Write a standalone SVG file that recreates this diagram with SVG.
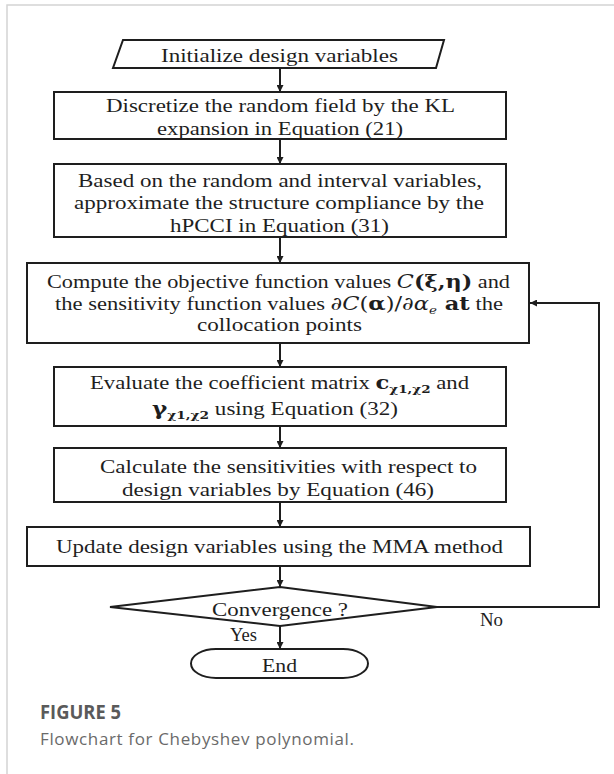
<svg xmlns="http://www.w3.org/2000/svg" width="614" height="774" viewBox="0 0 614 774">
  <style>
    .frame { fill: none; stroke: #d4d4d4; stroke-width: 1.5; }
    .shape { fill: #ffffff; stroke: #1e1e1e; stroke-width: 2; }
    .line { fill: none; stroke: #1e1e1e; stroke-width: 2; }
    .t { font-family: "Liberation Serif", "Times New Roman", serif; font-size: 18.5px; fill: #1e1e1e; }
    .m { font-family: "DejaVu Serif", "Liberation Serif", serif; }
    .sub { font-size: 11px; }
    .cap-title { font-family: "Open Sans", "Noto Sans", sans-serif; font-size: 19px; font-weight: bold; fill: #5a5a5a; }
    .cap { font-family: "Open Sans", "Noto Sans", sans-serif; font-size: 17px; fill: #6a6a6a; }
  </style>
  <defs>
    <marker id="arrow" viewBox="0 0 10 10" refX="10" refY="5" markerWidth="7" markerHeight="7" markerUnits="userSpaceOnUse" orient="auto">
      <path d="M0,0 L10,5 L0,10 z" fill="#1e1e1e"/>
    </marker>
  </defs>

  <rect width="614" height="774" fill="#ffffff"/>
  <path class="frame" d="M7,774 V5 H614"/>

  <!-- connectors -->
  <g id="connectors">
    <line class="line" x1="280" y1="68" x2="280" y2="92" marker-end="url(#arrow)"/>
    <line class="line" x1="280" y1="139" x2="280" y2="164" marker-end="url(#arrow)"/>
    <line class="line" x1="280" y1="237" x2="280" y2="263" marker-end="url(#arrow)"/>
    <line class="line" x1="280" y1="343" x2="280" y2="367" marker-end="url(#arrow)"/>
    <line class="line" x1="280" y1="426" x2="280" y2="448" marker-end="url(#arrow)"/>
    <line class="line" x1="280" y1="502" x2="280" y2="527" marker-end="url(#arrow)"/>
    <line class="line" x1="280" y1="566" x2="280" y2="587" marker-end="url(#arrow)"/>
    <line class="line" x1="280" y1="626" x2="280" y2="649" marker-end="url(#arrow)"/>
    <polyline class="line" points="437,607 599,607 599,303 530,303" marker-end="url(#arrow)"/>
    <text class="t" x="230" y="641" textLength="27" lengthAdjust="spacingAndGlyphs">Yes</text>
    <text class="t" x="480" y="626" textLength="23" lengthAdjust="spacingAndGlyphs">No</text>
  </g>

  <!-- start: input step -->
  <g id="init">
    <polygon class="shape" points="123,40 444,40 436,68 113,68"/>
    <text class="t" x="161" y="62" textLength="237" lengthAdjust="spacingAndGlyphs">Initialize design variables</text>
  </g>

  <g id="discretize">
    <rect class="shape" x="54" y="92" width="452" height="47"/>
    <text class="t" x="106" y="112" textLength="349" lengthAdjust="spacingAndGlyphs">Discretize the random field by the KL</text>
    <text class="t" x="157" y="135" textLength="246" lengthAdjust="spacingAndGlyphs">expansion in Equation (21)</text>
  </g>

  <g id="approximate">
    <rect class="shape" x="54" y="164" width="452" height="73"/>
    <text class="t" x="78" y="187" textLength="404" lengthAdjust="spacingAndGlyphs">Based on the random and interval variables,</text>
    <text class="t" x="74" y="209" textLength="410" lengthAdjust="spacingAndGlyphs">approximate the structure compliance by the</text>
    <text class="t" x="170" y="232" textLength="219" lengthAdjust="spacingAndGlyphs">hPCCI in Equation (31)</text>
  </g>

  <g id="compute">
    <rect class="shape" x="27" y="263" width="502" height="80"/>
    <text class="t" x="47" y="288" textLength="463" lengthAdjust="spacingAndGlyphs">Compute the objective function values <tspan class="m" font-style="italic">C</tspan><tspan class="m" font-weight="bold">(ξ,η)</tspan> and</text>
    <text class="t" x="55" y="310" textLength="448" lengthAdjust="spacingAndGlyphs">the sensitivity function values <tspan class="m">∂<tspan font-style="italic">C</tspan>(<tspan font-weight="bold">α</tspan>)/∂<tspan font-style="italic">α</tspan></tspan><tspan class="m sub" font-style="italic" dy="4">e</tspan><tspan class="m" font-weight="bold" dy="-4"> at</tspan> the</text>
    <text class="t" x="197" y="331" textLength="165" lengthAdjust="spacingAndGlyphs">collocation points</text>
  </g>

  <g id="evaluate">
    <rect class="shape" x="54" y="367" width="452" height="59"/>
    <text class="t" x="90" y="389" textLength="379" lengthAdjust="spacingAndGlyphs">Evaluate the coefficient matrix <tspan class="m" font-weight="bold">c</tspan><tspan class="m sub" font-weight="bold" dy="4">χ1,χ2</tspan><tspan dy="-4"> and</tspan></text>
    <text class="t" x="152" y="415" textLength="246" lengthAdjust="spacingAndGlyphs"><tspan class="m" font-weight="bold">γ</tspan><tspan class="m sub" font-weight="bold" dy="4">χ1,χ2</tspan><tspan dy="-4"> using Equation (32)</tspan></text>
  </g>

  <g id="sensitivities">
    <rect class="shape" x="54" y="448" width="452" height="54"/>
    <text class="t" x="100" y="473" textLength="377" lengthAdjust="spacingAndGlyphs">Calculate the sensitivities with respect to</text>
    <text class="t" x="122" y="496" textLength="312" lengthAdjust="spacingAndGlyphs">design variables by Equation (46)</text>
  </g>

  <g id="update">
    <rect class="shape" x="27" y="527" width="503" height="39"/>
    <text class="t" x="56" y="553" textLength="447" lengthAdjust="spacingAndGlyphs">Update design variables using the MMA method</text>
  </g>

  <g id="convergence">
    <polygon class="shape" points="280,587 437,607 280,626 110,607"/>
    <text class="t" x="212" y="616" textLength="136" lengthAdjust="spacingAndGlyphs">Convergence ?</text>
  </g>

  <g id="end">
    <rect class="shape" x="191" y="649" width="177" height="29" rx="25" ry="14.5"/>
    <text class="t" x="262" y="672" textLength="35" lengthAdjust="spacingAndGlyphs">End</text>
  </g>

  <text class="cap-title" x="40" y="719" textLength="81" lengthAdjust="spacingAndGlyphs">FIGURE 5</text>
  <text class="cap" x="40" y="745" textLength="314" lengthAdjust="spacing">Flowchart for Chebyshev polynomial.</text>
</svg>
